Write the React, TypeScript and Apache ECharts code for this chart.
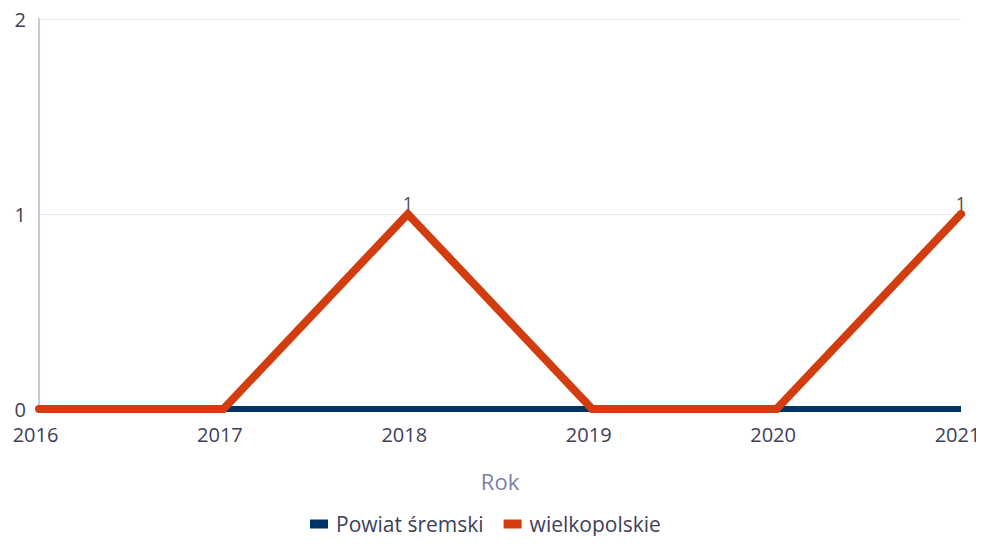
import React, { useEffect, useRef } from "react";
import * as echarts from "echarts";

const years = ["2016", "2017", "2018", "2019", "2020", "2021"];
const powiatSremski = [0, 0, 0, 0, 0, 0];
const wielkopolskie = [0, 0, 1, 0, 0, 1];
const seriesNames = ["Powiat śremski", "wielkopolskie"];

export default function App() {
  const ref = useRef<HTMLDivElement>(null);
  useEffect(() => {
    if (!ref.current) return;
    const chart = echarts.init(ref.current, undefined, { renderer: "svg" });
    const font = "'Open Sans', 'Noto Sans', sans-serif";
    chart.setOption({
      animation: false,
      textStyle: { fontFamily: font },
      grid: { left: 39, right: 23, top: 19, bottom: 135, containLabel: false },
      legend: {
        top: 513,
        padding: 0,
        left: 310,
        itemWidth: 18,
        itemHeight: 9,
        itemGap: 20,
        icon: "rect",
        textStyle: {
          fontSize: 21,
          lineHeight: 22,
          color: "#3d3f5a",
          fontFamily: font,
          padding: [0, 0, 0, 3],
        },
        data: seriesNames,
      },
      xAxis: {
        type: "category",
        data: years,
        boundaryGap: false,
        name: "Rok",
        nameLocation: "middle",
        nameGap: 61,
        nameTextStyle: { fontSize: 22, color: "#7c80a6", fontFamily: font },
        axisLine: { show: true, lineStyle: { color: "#ccd6eb" } },
        axisTick: { show: false },
        axisLabel: {
          fontSize: 20,
          color: "#3d3f5a",
          margin: 15,
          fontFamily: font,
          padding: [0, 7, 0, 0],
        },
        splitLine: { show: false },
      },
      yAxis: {
        type: "value",
        min: 0,
        max: 2,
        interval: 1,
        axisLine: { show: true, lineStyle: { color: "#c5c8d8", width: 2 } },
        axisTick: { show: false },
        axisLabel: { fontSize: 20, color: "#3d3f5a", margin: 13, fontFamily: font },
        splitLine: { show: true, lineStyle: { color: "#e6e6e6" } },
      },
      series: [
        {
          name: seriesNames[0],
          type: "line",
          data: powiatSremski,
          color: "#003366",
          lineStyle: { width: 6, color: "#003366" },
          symbol: "none",
          label: { show: false },
        },
        {
          name: seriesNames[1],
          type: "line",
          data: wielkopolskie,
          color: "#d13d0f",
          lineStyle: { width: 8, color: "#d13d0f", cap: "round", join: "miter" },
          symbol: "circle",
          symbolSize: 2,
          showSymbol: true,
          itemStyle: { color: "#d13d0f" },
          label: {
            show: true,
            position: "top",
            distance: 1,
            fontSize: 18,
            color: "#4a4a4a",
            fontFamily: font,
            formatter: (p: any) => (p.value === 0 ? "" : String(p.value)),
          },
        },
      ],
    });
    return () => chart.dispose();
  }, []);
  return <div ref={ref} style={{ width: 984, height: 544, margin: -8 }} />;
}
